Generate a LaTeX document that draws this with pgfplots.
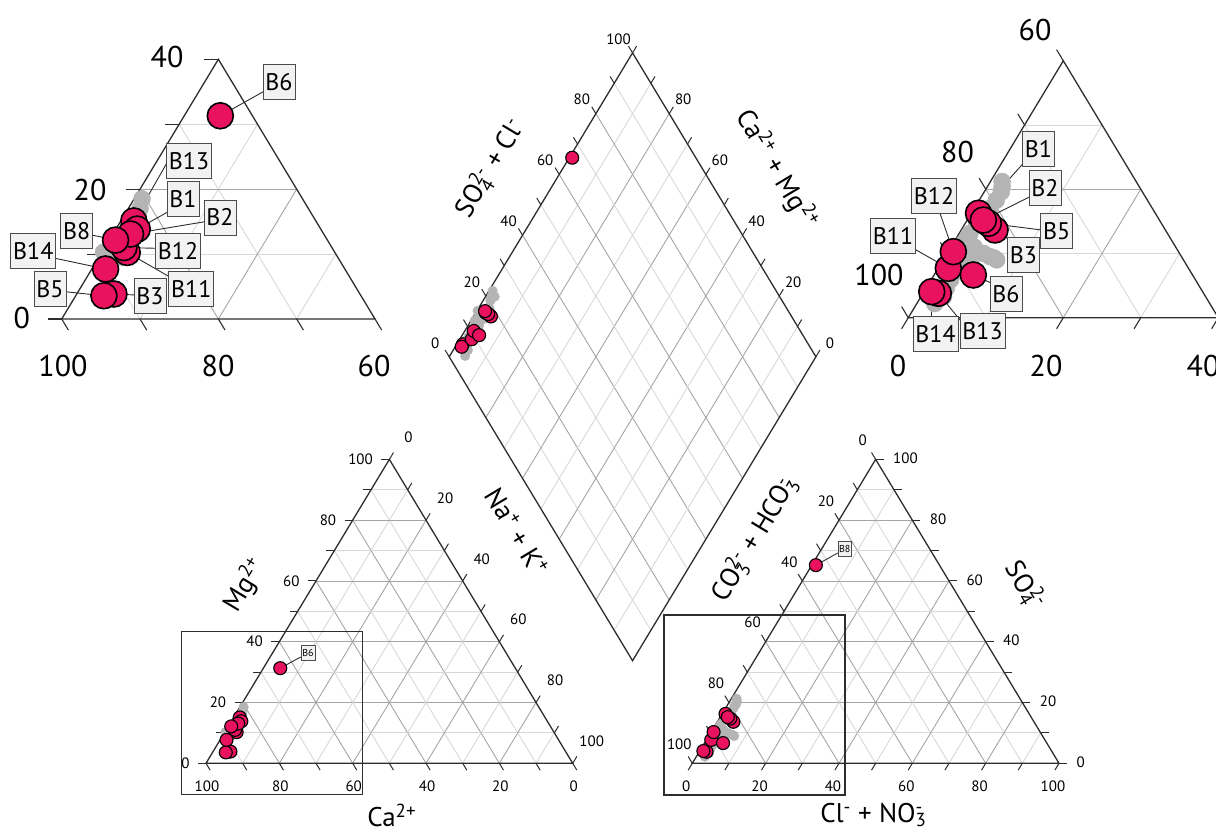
\documentclass[border=0pt]{standalone}
\usepackage{pgfplots}
\pgfplotsset{compat=1.18}
\usepackage{pgfplotstable}
\usepackage{fontspec}
\setmainfont{PT Sans}

\definecolor{ptred}{RGB}{232,18,94}
\definecolor{ptgray}{RGB}{180,180,180}
\definecolor{griddark}{RGB}{165,165,165}
\definecolor{gridlight}{RGB}{216,216,216}
\definecolor{framec}{RGB}{45,45,45}
\definecolor{boxfill}{RGB}{242,242,242}

% samples: Mg2+, Na++K+ (meq %), SO4 2-, Cl-+NO3- (meq %)
\pgfplotstableread{
name Mg Na SO4 Cl
B3  3.85 4.74 13.66 4.36
B13 15.1 1.66 3.8 1.97
B11 10.25 3.24 7.69 1.32
B12 11.0 2.44 10.28 0.67
B6  31.3 4.6 6.65 5.06
B1  13.85 2.72 16.26 0.93
B5  3.58 3.6 14.7 2.98
B2  13.08 2.25 15.2 2.08
B14 7.7 1.75 4.05 1.0
B8  12.15 0.8 65.2 1.1
}\samples

\pgfplotstableread{
Mg Na SO4 Cl
18.5 1.0 21.2 1.5
17.0 1.5 19.6 2.2
15.5 2.0 18.3 2.2
14.0 1.5 13.1 1.4
12.5 1.0 11.6 1.3
10.3 0.2 9.5 5.8
9.0 2.0 9.0 6.9
8.0 2.0 9.0 2.2
7.7 2.0 5.9 2.5
3.8 4.0 3.3 2.9
3.6 4.2 2.2 2.3
11.0 1.5 10.0 4.7
12.0 2.5 20.4 1.9
13.5 2.7 17.0 2.0
11.5 2.3 15.8 1.8
12.8 2.2 14.5 1.6
11.2 2.6 12.3 1.4
10.8 2.8 10.8 1.5
9.5 3.0 8.2 2.3
8.5 2.0 7.0 2.4
7.7 1.9 4.6 2.6
10.5 3.0 9.8 3.5
9.8 3.2 9.3 6.4
12.2 2.4 11.0 3.0
}\grays

\newcommand{\sups}[1]{\textsuperscript{#1}}
\newcommand{\subsup}[2]{\rlap{\textsubscript{#1}}\textsuperscript{#2}}
\newcommand{\tl}{\fontsize{15}{15}\selectfont}
\newcommand{\bl}{\fontsize{30}{30}\selectfont}
\newcommand{\al}{\fontsize{27}{27}\selectfont}

% ternary grid: X0 Y0 W H N N-1
\newcommand{\terngrid}[6]{%
  \foreach \k in {1,...,#6}{%
    \pgfmathsetmacro\f{\k/#5}%
    \pgfmathtruncatemacro\ev{mod(\k,2)}%
    \ifnum\ev=0 \colorlet{gc}{griddark}\else\colorlet{gc}{gridlight}\fi
    \draw[gc, line width=0.9] ({#1+#3*\f/2},{#2+#4*\f}) -- ({#1+#3-#3*\f/2},{#2+#4*\f});
    \draw[gc, line width=0.9] ({#1+#3*\f},#2) -- ({#1+#3*(1+\f)/2},{#2+#4*(1-\f)});
    \draw[gc, line width=0.9] ({#1+#3*(1-\f)},#2) -- ({#1+#3*(1-\f)/2},{#2+#4*(1-\f)});
  }%
  \draw[framec, line width=1.3] (#1,#2) -- ({#1+#3},#2) -- ({#1+#3/2},{#2+#4}) -- cycle;
}

\pgfplotsset{
  redpt/.style={only marks, mark=*, mark size=6.5, mark options={fill=ptred, draw=black, line width=1.1}},
  redbig/.style={only marks, mark=*, mark size=13, mark options={fill=ptred, draw=black, line width=1.6}},
  graypt/.style={only marks, mark=*, mark size=4.8, mark options={fill=ptgray, draw=ptgray}},
  graybig/.style={only marks, mark=*, mark size=8.5, mark options={fill=ptgray, draw=ptgray}},
}
\tikzset{
  lbl/.style={draw=black!70, fill=boxfill, line width=0.8, font=\fontsize{24}{24}\selectfont, inner xsep=2.5, inner ysep=0, minimum height=35, text height=17, text depth=0},
  sml/.style={draw=black!70, fill=boxfill, line width=0.6, font=\fontsize{10}{10}\selectfont, inner xsep=1.2, inner ysep=0, minimum height=15, text height=7, text depth=0},
  lead/.style={framec, line width=0.9},
}

\begin{document}
\begin{tikzpicture}[x=1pt,y=1pt]
\path[use as bounding box] (0,0) rectangle (1216,832);

% ---------- grids and frames ----------
\terngrid{206}{68.7}{366.7}{303.9}{10}{9}
\terngrid{692.3}{68.7}{366.7}{303.9}{10}{9}
\terngrid{61.7}{513}{313.3}{259.7}{4}{3}
\terngrid{908.3}{514.3}{310}{256.9}{4}{3}

% diamond
\foreach \k in {1,...,9}{%
  \pgfmathsetmacro\s{10*\k}%
  \pgfmathtruncatemacro\ev{mod(\k,2)}%
  \ifnum\ev=0 \colorlet{gc}{griddark}\else\colorlet{gc}{gridlight}\fi
  \draw[gc, line width=0.9] ({449.2+1.8335*\s},{475.2+3.039*\s}) -- ++(183.35,-303.9);
  \draw[gc, line width=0.9] ({449.2+1.8335*\s},{475.2-3.039*\s}) -- ++(183.35,303.9);
}
\draw[framec, line width=1.3] (449.2,475.2) -- (632.55,779.1) -- (815.9,475.2) -- (632.55,171.3) -- cycle;

% ---------- ticks ----------
\foreach \k in {0,...,10}{%
  \pgfmathsetmacro\f{\k/10}%
  \pgfmathsetmacro\s{10*\k}%
  % cation triangle
  \draw[framec, line width=1] ({206+183.35*\f},{68.7+303.9*\f}) -- ++(-8,0);
  \draw[framec, line width=1] ({206+366.7*\f},68.7) -- ++(4.13,-6.85);
  \draw[framec, line width=1] ({206+183.35*(1+\f)},{68.7+303.9*(1-\f)}) -- ++(4.13,6.85);
  % anion triangle
  \draw[framec, line width=1] ({692.3+366.7-183.35*\f},{68.7+303.9*\f}) -- ++(8,0);
  \draw[framec, line width=1] ({692.3+183.35*\f},{68.7+303.9*\f}) -- ++(-4.13,6.85);
  \draw[framec, line width=1] ({692.3+366.7*\f},68.7) -- ++(-4.13,-6.85);
  % diamond
  \draw[framec, line width=1] ({449.2+1.8335*\s},{475.2+3.039*\s}) -- ++(-4.1,6.8);
  \draw[framec, line width=1] ({449.2+1.8335*(100+\s)},{475.2+3.039*(100-\s)}) -- ++(4.1,6.8);
}
\foreach \k in {0,...,4}{%
  \pgfmathsetmacro\f{\k/4}%
  \draw[framec, line width=1.1] ({61.7+156.65*\f},{513+259.7*\f}) -- ++(-14,0);
  \draw[framec, line width=1.1] ({61.7+313.3*\f},513) -- ++(6.7,-11.1);
  \draw[framec, line width=1.1] ({908.3+155*\f},{514.3+256.9*\f}) -- ++(-6.7,11.1);
  \draw[framec, line width=1.1] ({908.3+310*\f},514.3) -- ++(-6.7,-11.1);
}

% ---------- tick labels ----------
\foreach \k in {0,2,...,10}{%
  \pgfmathsetmacro\f{\k/10}%
  \pgfmathtruncatemacro\v{10*\k}%
  \pgfmathtruncatemacro\w{100-10*\k}%
  \node[font=\tl, anchor=east] at ({206+183.35*\f-13},{68.7+303.9*\f}) {\v};
  \node[font=\tl] at ({206+366.7*\f+1},{68.7-23}) {\w};
  \node[font=\tl] at ({206+183.35*(1+\f)+19},{68.7+303.9*(1-\f)+22}) {\v};
  \node[font=\tl, anchor=west] at ({692.3+366.7-183.35*\f+14},{68.7+303.9*\f+1}) {\v};
  \node[font=\tl] at ({692.3+183.35*\f-13},{68.7+303.9*\f+19}) {\w};
  \node[font=\tl] at ({692.3+366.7*\f-6},{68.7-23}) {\v};
  \node[font=\tl] at ({449.2+1.8335*\v-14},{475.2+3.039*\v+14}) {\v};
}
\foreach \k in {2,4,...,10}{%
  \pgfmathtruncatemacro\v{10*\k}%
  \pgfmathtruncatemacro\w{100-10*\k}%
  \node[font=\tl] at ({449.2+1.8335*(100+\v)+14},{475.2+3.039*(100-\v)+14}) {\w};
}
% inset labels
\node[font=\bl] at (167,775) {40};
\node[font=\bl] at (90,642) {20};
\node[font=\bl] at (21.7,514) {0};
\node[font=\bl] at (63,466) {100};
\node[font=\bl] at (218,466) {80};
\node[font=\bl] at (374,466) {60};
\node[font=\bl] at (1035,802) {60};
\node[font=\bl] at (957.5,680.3) {80};
\node[font=\bl] at (879,557) {100};
\node[font=\bl] at (898,466) {0};
\node[font=\bl] at (1046,466) {20};
\node[font=\bl] at (1203,466) {40};

% ---------- axis titles ----------
\node[font=\al, rotate=59] at (490,664) {SO\subsup{4}{2-} + Cl\sups{-}};
\node[font=\al, rotate=-59] at (776.7,663) {Ca\sups{2+} + Mg\sups{2+}};
\node[font=\al, rotate=-59] at (516.7,300.3) {Na\sups{+} + K\sups{+}};
\node[font=\al, rotate=59] at (753.3,292) {CO\subsup{3}{2-} + HCO\subsup{3}{-}};
\node[font=\al, rotate=59] at (245,247) {Mg\sups{2+}};
\node[font=\al, rotate=-59] at (1025,247) {SO\subsup{4}{2-}};
\node[font=\al] at (391.7,17) {Ca\sups{2+}};
\node[font=\al] at (871.7,17) {Cl\sups{-} + NO\subsup{3}{-}};

% zoom frames
\draw[framec, line width=1.2] (181.7,37.7) rectangle (362.3,200.3);
\draw[framec, line width=1.2] (664,37) rectangle (845,217);

% ---------- data ----------
\begin{axis}[at={(0,0)}, anchor=origin, x=1pt, y=1pt, xmin=0, xmax=1216, ymin=0, ymax=832,
  hide axis, clip=false, disabledatascaling]
% cation triangle
\addplot[graypt] table[x expr={206+3.667*(\thisrow{Na}+0.5*\thisrow{Mg})}, y expr={68.7+3.039*\thisrow{Mg}}]{\grays};
\addplot[redpt] table[x expr={206+3.667*(\thisrow{Na}+0.5*\thisrow{Mg})}, y expr={68.7+3.039*\thisrow{Mg}}]{\samples};
% anion triangle
\addplot[graypt] table[x expr={692.3+3.667*(\thisrow{Cl}+0.5*\thisrow{SO4})}, y expr={68.7+3.039*\thisrow{SO4}}]{\grays};
\addplot[redpt] table[x expr={692.3+3.667*(\thisrow{Cl}+0.5*\thisrow{SO4})}, y expr={68.7+3.039*\thisrow{SO4}}]{\samples};
% diamond
\addplot[graypt] table[x expr={449.2+1.8335*(\thisrow{SO4}+\thisrow{Cl}+\thisrow{Na})}, y expr={475.2+3.039*(\thisrow{SO4}+\thisrow{Cl}-\thisrow{Na})}]{\grays};
\addplot[redpt] table[x expr={449.2+1.8335*(\thisrow{SO4}+\thisrow{Cl}+\thisrow{Na})}, y expr={475.2+3.039*(\thisrow{SO4}+\thisrow{Cl}-\thisrow{Na})}]{\samples};
% cation inset (Ca 60-100)
\addplot[graybig] table[x expr={61.7+7.8325*(\thisrow{Na}+0.5*\thisrow{Mg})}, y expr={513+6.4925*\thisrow{Mg}}]{\grays};
\addplot[redbig] table[x expr={61.7+7.8325*(\thisrow{Na}+0.5*\thisrow{Mg})}, y expr={513+6.4925*\thisrow{Mg}}]{\samples};
% anion inset (CO3+HCO3 60-100)
\addplot[graybig] table[x expr={908.3+7.75*(\thisrow{Cl}+0.5*\thisrow{SO4})}, y expr={514.3+6.4225*\thisrow{SO4}}]{\grays};
\addplot[redbig, skip coords between index={9}{10}] table[x expr={908.3+7.75*(\thisrow{Cl}+0.5*\thisrow{SO4})}, y expr={514.3+6.4225*\thisrow{SO4}}]{\samples};

% leader lines
\draw[lead] (263.3,740.3) -- (220.3,716.2);
\draw[lead] (166.7,668.7) -- (133.8,611.0);
\draw[lead] (168.3,620.3) -- (137.2,602.9);
\draw[lead] (205,610.3) -- (130.5,597.9);
\draw[lead] (91.7,597) -- (115.55,591.9);
\draw[lead] (156.7,583.7) -- (123.9,584.4);
\draw[lead] (55,573.7) -- (105.6,563);
\draw[lead] (169.3,555.3) -- (127.2,579.5);
\draw[lead] (65,540.3) -- (103.9,536.2);
\draw[lead] (135,537) -- (113.9,538);
\draw[lead] (1023.3,668.7) -- (978.5,618.7);
\draw[lead] (1030,635.3) -- (983.3,611.9);
\draw[lead] (1041.7,602) -- (988.4,608.7);
\draw[lead] (1010,592) -- (995,602);
\draw[lead] (940,618.7) -- (953.3,580.3);
\draw[lead] (915,582.7) -- (948.3,563.7);
\draw[lead] (991.7,548.7) -- (973.3,557);
\draw[lead] (931.7,512) -- (931.7,540.3);
\draw[lead] (960,512) -- (938.3,538.7);
\draw[lead] (300.7,175) -- (280.2,163.8);
\draw[lead] (837.7,279) -- (815.9,266.8);

% labels
\node[lbl] at (279,750) {B6};
\node[lbl] at (189,671) {B13};
\node[lbl] at (183,633) {B1};
\node[lbl] at (220,614.5) {B2};
\node[lbl] at (76.7,601.2) {B8};
\node[lbl] at (178,581) {B12};
\node[lbl] at (33.3,581.2) {B14};
\node[lbl] at (191.3,543.3) {B11};
\node[lbl] at (50,543) {B5};
\node[lbl] at (150,536.2) {B3};
\node[lbl] at (1038.3,682.8) {B1};
\node[lbl] at (1045,643.7) {B2};
\node[lbl] at (1056.7,601.2) {B5};
\node[lbl] at (1023.3,577) {B3};
\node[lbl] at (934,636) {B12};
\node[lbl] at (893,596) {B11};
\node[lbl] at (1006,538) {B6};
\node[lbl] at (935.5,498) {B14};
\node[lbl] at (982.5,501) {B13};
\node[sml] at (308,179) {B6};
\node[sml] at (844.7,283) {B8};
\end{axis}
\end{tikzpicture}
\end{document}
